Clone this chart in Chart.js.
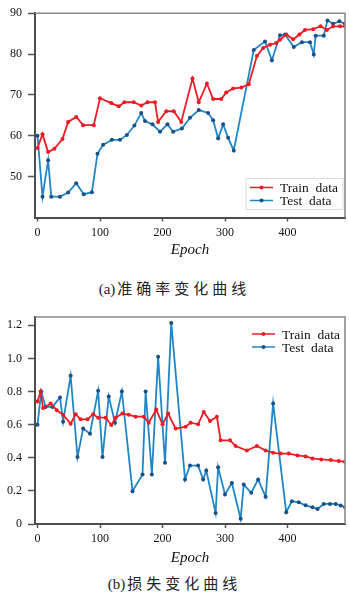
<!DOCTYPE html>
<html>
<head>
<meta charset="utf-8">
<script src="https://cdn.jsdelivr.net/npm/chart.js@4.4.0/dist/chart.umd.min.js"></script>
<style>
  html, body { margin: 0; padding: 0; background: #fff; }
  body { width: 349px; height: 606px; position: relative; overflow: hidden; }
  .holder { position: absolute; left: 0; width: 349px; }
  .caption {
    position: absolute; left: 0; width: 349px; text-align: center;
    font-family: "Noto Sans CJK SC", sans-serif; font-size: 15px; line-height: 20px;
    letter-spacing: 4px; color: #222;
  }
  .caption .tag { font-family: "Liberation Serif", serif; letter-spacing: 0; margin-right: 2px; }
</style>
</head>
<body>
<div class="holder" style="top:0"><canvas id="accChart" width="349" height="259"></canvas></div>
<div class="caption" style="top:278px"><span class="tag">(a)</span>准确率变化曲线</div>
<div class="holder" style="top:300px"><canvas id="lossChart" width="349" height="267"></canvas></div>
<div class="caption" style="top:573px"><span class="tag">(b)</span>损失变化曲线</div>

<script>
// accuracy (a)
const accTrainEpoch = [0, 8, 17, 27, 40, 49, 62, 73, 90, 100, 118, 130, 139, 154, 166, 176, 188, 193, 206, 218, 230, 248, 258, 271, 281, 294, 302, 313, 326, 338, 351, 361, 372, 382, 388, 398, 409, 419, 428, 441, 453, 463, 473, 484, 492];
const accTrainValue = [57, 60.4, 56.0, 56.8, 59.2, 63.4, 64.6, 62.6, 62.6, 69.2, 68.0, 67.2, 68.2, 68.2, 67.4, 68.2, 68.2, 63.4, 66.0, 66.0, 63.4, 74.0, 68.2, 72.8, 69.0, 69.0, 70.6, 71.6, 71.8, 72.6, 79.5, 81.5, 82.3, 82.7, 83.5, 84.8, 83.6, 84.8, 85.9, 86.1, 86.8, 85.9, 86.8, 86.8, 86.8];
const accTestEpoch = [0, 8, 17, 22, 36, 49, 62, 74, 87, 96, 105, 119, 132, 143, 155, 166, 172, 184, 196, 208, 217, 231, 244, 258, 273, 281, 289, 297, 305, 314, 346, 364, 375, 388, 396, 410, 423, 436, 442, 445, 458, 464, 473, 483, 492];
const accTestValue = [60.0, 45.1, 54.0, 45.1, 45.1, 46.1, 48.4, 45.7, 46.2, 55.6, 57.8, 59.0, 59.0, 60.2, 62.5, 65.6, 63.6, 62.8, 61.0, 62.8, 61.0, 61.8, 64.4, 66.3, 65.6, 63.8, 59.4, 62.8, 59.5, 56.4, 81.0, 83.1, 78.5, 84.6, 84.8, 81.7, 82.9, 82.9, 79.9, 84.5, 84.5, 88.2, 87.4, 88.0, 87.4];

// loss (b)
const lossTrainEpoch = [0, 5, 9, 21, 31, 41, 53, 61, 69, 80, 89, 97, 109, 118, 125, 136, 146, 157, 170, 178, 190, 200, 209, 221, 237, 245, 257, 266, 276, 287, 293, 308, 317, 335, 351, 365, 377, 389, 402, 416, 429, 440, 454, 469, 482, 492];
const lossTrainValue = [0.74, 0.80, 0.70, 0.727, 0.687, 0.659, 0.606, 0.663, 0.632, 0.632, 0.663, 0.642, 0.642, 0.598, 0.642, 0.667, 0.659, 0.648, 0.648, 0.612, 0.691, 0.602, 0.667, 0.576, 0.588, 0.612, 0.602, 0.677, 0.622, 0.648, 0.505, 0.505, 0.471, 0.444, 0.471, 0.444, 0.430, 0.425, 0.425, 0.414, 0.408, 0.396, 0.390, 0.386, 0.380, 0.376];
const lossTestEpoch = [0, 6, 13, 24, 36, 41, 53, 64, 73, 84, 97, 104, 114, 124, 135, 152, 168, 173, 183, 193, 204, 214, 236, 244, 257, 265, 270, 285, 289, 300, 311, 325, 330, 342, 353, 365, 377, 398, 407, 418, 429, 440, 448, 458, 468, 477, 485, 492];
const lossTestValue = [0.60, 0.80, 0.707, 0.707, 0.764, 0.618, 0.895, 0.404, 0.576, 0.545, 0.804, 0.404, 0.770, 0.612, 0.80, 0.198, 0.299, 0.80, 0.299, 1.01, 0.37, 1.214, 0.269, 0.353, 0.353, 0.269, 0.323, 0.067, 0.343, 0.178, 0.248, 0.032, 0.238, 0.188, 0.269, 0.164, 0.727, 0.071, 0.137, 0.131, 0.113, 0.101, 0.091, 0.121, 0.121, 0.121, 0.112, 0.101];

const epochTicks = [0, 100, 200, 300, 400];
const accTicks = [50, 60, 70, 80, 90];
const lossTicks = [0, 0.2, 0.4, 0.6, 0.8, 1.0, 1.2];
const seriesNames = ['Train data', 'Test data'];

const SERIF = '"Liberation Serif", "DejaVu Serif", serif';
const RED = '#ec1c24';
const BLUE = '#1f86c8';
const BLUE_PT = '#1c4f86';

function toPoints(xs, ys) {
    return xs.map((x, i) => ({ x: x, y: ys[i] }));
}

function lineSet(label, xs, ys, color, pointColor) {
    return {
        label: label,
        data: toPoints(xs, ys),
        borderColor: color,
        backgroundColor: pointColor,
        pointBackgroundColor: pointColor,
        pointBorderColor: pointColor,
        borderWidth: 1.8,
        pointRadius: 2,
        pointBorderWidth: 0,
        tension: 0,
        fill: false
    };
}

// light frame on top and right, like the original axes box
const framePlugin = {
    id: 'frame',
    afterDraw(chart) {
        const { ctx, chartArea: a } = chart;
        ctx.save();
        ctx.strokeStyle = '#8a8a8a';
        ctx.lineWidth = 1.6;
        ctx.beginPath();
        ctx.moveTo(a.left, a.top);
        ctx.lineTo(a.right, a.top);
        ctx.lineTo(a.right, a.bottom);
        ctx.stroke();
        ctx.restore();
    }
};

// legend drawn inside the plot area
const insideLegend = {
    id: 'insideLegend',
    afterDraw(chart, args, opts) {
        const { ctx, chartArea: a } = chart;
        const x0 = a.right - opts.fromRight;
        const y0 = opts.corner === 'bottom' ? a.bottom - opts.fromEdge : a.top + opts.fromEdge;
        ctx.save();
        if (opts.box) {
            ctx.strokeStyle = '#dcdcdc';
            ctx.lineWidth = 1;
            ctx.strokeRect(x0 - 4, y0 - 9, a.right - x0 + 2, 31);
        }
        chart.data.datasets.forEach((ds, i) => {
            const y = y0 + i * 13;
            ctx.strokeStyle = ds.borderColor;
            ctx.lineWidth = 1.5;
            ctx.beginPath();
            ctx.moveTo(x0, y);
            ctx.lineTo(x0 + 23, y);
            ctx.stroke();
            ctx.fillStyle = ds.pointBackgroundColor;
            ctx.beginPath();
            ctx.arc(x0 + 11.5, y, 2, 0, Math.PI * 2);
            ctx.fill();
            ctx.fillStyle = '#111';
            ctx.font = '13.5px ' + SERIF;
            ctx.textBaseline = 'middle';
            ctx.fillText(ds.label.replace(' ', '  '), x0 + 30, y + 1);
        });
        ctx.restore();
    }
};

function makeOptions(cfg) {
    return {
        responsive: false,
        animation: false,
        layout: { padding: { top: cfg.padTop, right: 3, left: 0, bottom: 0 } },
        plugins: {
            legend: { display: false },
            tooltip: { enabled: false },
            insideLegend: cfg.legend
        },
        scales: {
            x: {
                type: 'linear',
                min: -4,
                max: 492,
                afterBuildTicks: s => { s.ticks = epochTicks.map(v => ({ value: v })); },
                afterFit: s => { s.height = cfg.xHeight; },
                grid: { drawOnChartArea: false, tickLength: 4, color: '#555', tickWidth: 1.5 },
                border: { color: '#4d4d4d', width: 2 },
                ticks: { color: '#111', font: { family: SERIF, size: 12 }, padding: 4, maxRotation: 0 },
                title: { display: true, text: 'Epoch', color: '#111', padding: 0,
                         font: { family: SERIF, size: 15, style: 'italic' } }
            },
            y: {
                min: cfg.yMin,
                max: cfg.yMax,
                afterBuildTicks: s => { s.ticks = cfg.yTicks.map(v => ({ value: v })); },
                afterFit: s => { s.width = 35; },
                grid: { drawOnChartArea: false, tickLength: 7, color: '#555', tickWidth: 1.5 },
                border: { color: '#4d4d4d', width: 2 },
                ticks: { color: '#111', font: { family: SERIF, size: 12 }, padding: 6,
                         callback: cfg.yFormat }
            }
        }
    };
}

new Chart(document.getElementById('accChart'), {
    type: 'line',
    data: {
        datasets: [
            lineSet(seriesNames[0], accTrainEpoch, accTrainValue, RED, RED),
            lineSet(seriesNames[1], accTestEpoch, accTestValue, BLUE, BLUE_PT)
        ]
    },
    options: makeOptions({
        padTop: 10, xHeight: 41.5, yMin: 40, yMax: 90, yTicks: accTicks,
        yFormat: v => String(v),
        legend: { corner: 'bottom', fromRight: 95, fromEdge: 30, box: true }
    }),
    plugins: [framePlugin, insideLegend]
});

new Chart(document.getElementById('lossChart'), {
    type: 'line',
    data: {
        datasets: [
            lineSet(seriesNames[0], lossTrainEpoch, lossTrainValue, RED, RED),
            lineSet(seriesNames[1], lossTestEpoch, lossTestValue, BLUE, BLUE_PT)
        ]
    },
    options: makeOptions({
        padTop: 17, xHeight: 43, yMin: 0, yMax: 1.25, yTicks: lossTicks,
        yFormat: v => (v === 0 ? '0' : v.toFixed(1)),
        legend: { corner: 'top', fromRight: 93, fromEdge: 17, box: false }
    }),
    plugins: [framePlugin, insideLegend]
});
</script>
</body>
</html>
